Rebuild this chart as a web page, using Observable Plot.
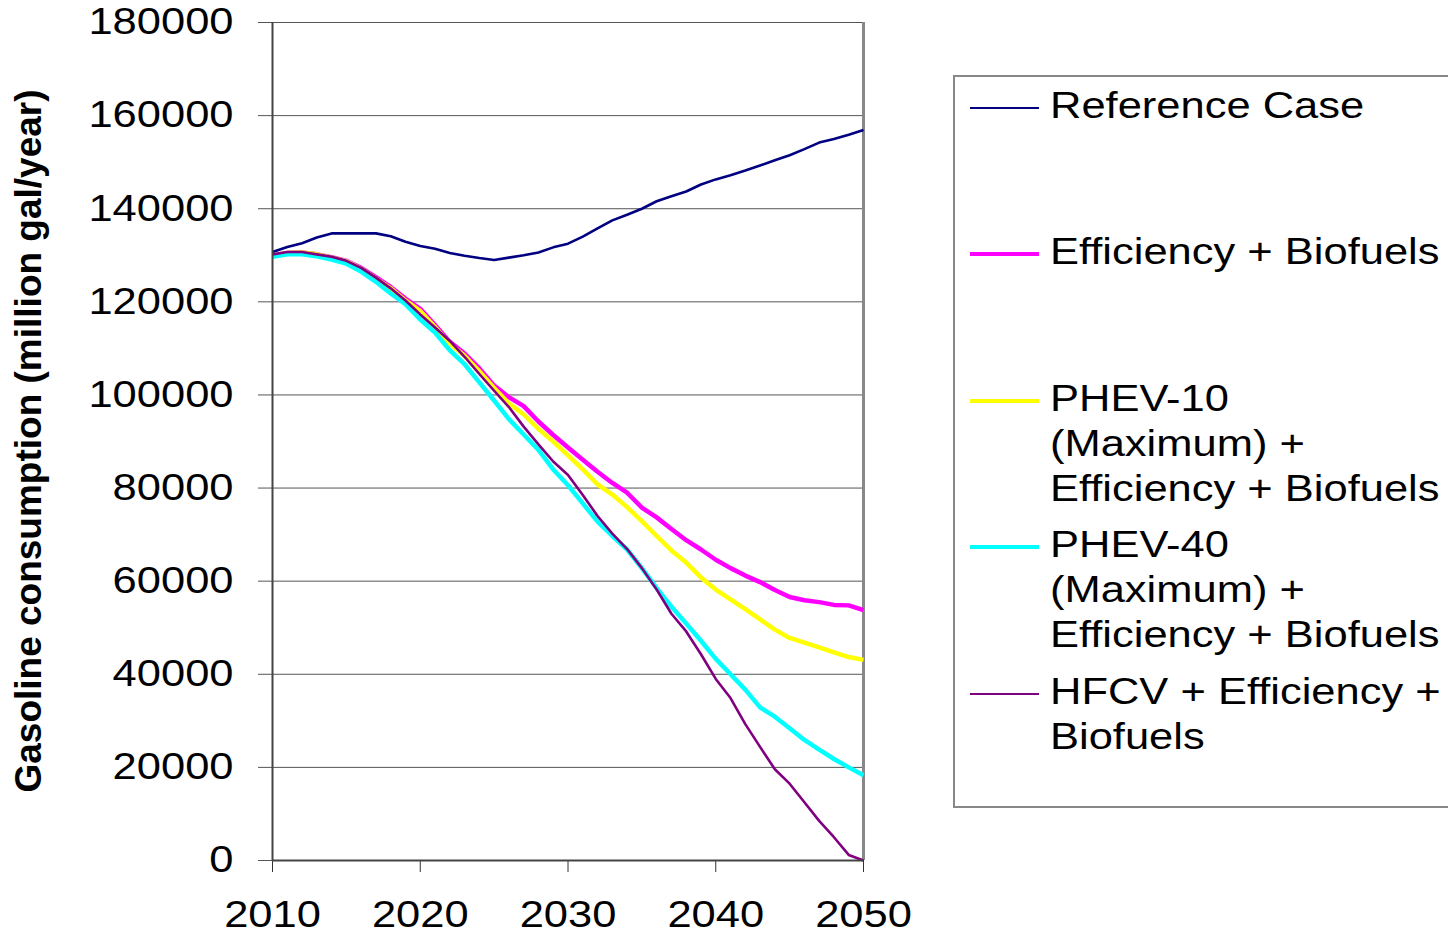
<!DOCTYPE html>
<html>
<head>
<meta charset="utf-8">
<script src="https://cdn.jsdelivr.net/npm/d3@7"></script>
<script src="https://cdn.jsdelivr.net/npm/@observablehq/plot@0.6"></script>
<style>
  html, body { margin: 0; padding: 0; background: #fff; overflow: hidden; }
  #wrap { position: relative; width: 1448px; height: 932px; font-family: "Liberation Sans", Arial, sans-serif; color: #000; }
  #ytitle {
    position: absolute; left: 28px; top: 441px;
    transform: translate(-50%, -50%) rotate(-90deg);
    white-space: nowrap; font-weight: bold; font-size: 37px; line-height: 1;
  }
  #legend {
    position: absolute; left: 953px; top: 75px; width: 540px; height: 733px;
    box-sizing: border-box; border: 2px solid #888; background: #fff;
    padding-top: 5.5px; font-size: 37px;
  }
  .entry { position: relative; height: 146.6px; }
  .swatch { position: absolute; left: 15px; width: 69px; }
  .label { position: absolute; left: 95px; top: 0; line-height: 45px; white-space: nowrap;
           transform: scaleX(1.175); transform-origin: 0 0; }
</style>
</head>
<body>
<div id="wrap"></div>
<script>
// ---- data ----
const years = [2010,2011,2012,2013,2014,2015,2016,2017,2018,2019,2020,2021,2022,2023,2024,2025,2026,2027,2028,2029,2030,
               2031,2032,2033,2034,2035,2036,2037,2038,2039,2040,2041,2042,2043,2044,2045,2046,2047,2048,2049,2050];

const referenceCase = [130700,131800,132600,133800,134700,134700,134700,134700,134100,132900,132000,
                       131400,130500,129900,129400,129000,129500,130000,130600,131700,132500,
                       134000,135800,137500,138700,140000,141600,142700,143700,145200,146300,
                       147200,148200,149300,150400,151500,152800,154200,155000,155900,156900];

const efficiencyBiofuels = [129900,130500,130600,130200,129600,128800,127300,125300,123200,120700,118500,
                            115000,111400,108900,105700,102000,99500,97600,94300,91400,88700,
                            86100,83500,81100,79000,75800,73700,71200,68800,66800,64600,
                            62800,61200,59800,58100,56600,55900,55500,54900,54800,53800];

const phev10 = [129900,130500,130600,130200,129500,128700,127100,125000,122900,120300,118000,
                114600,111000,108400,105100,101500,98200,95800,92700,90000,87000,
                84000,80800,78600,75900,72900,69700,66600,64000,60800,58200,
                56100,54000,51800,49600,47800,46800,45800,44700,43700,43100];

const phev40 = [129700,130200,130200,129800,129100,128200,126500,124300,121800,119500,116200,
                113400,109600,106600,102700,98800,94800,91500,88200,84000,80600,
                76700,72800,69700,66800,62800,58500,54500,50900,47200,43300,
                40000,36700,32900,30900,28400,25900,23800,21800,20000,18300];

const hfcv = [130200,130700,130700,130200,129700,128800,127300,125200,122900,120300,117300,
              114500,111600,108200,104500,100900,97400,93200,89400,85700,82800,
              78500,74000,70200,66900,62800,58200,53000,49200,44300,39000,
              34900,29300,24400,19600,16500,12500,8500,5000,1200,0];

const seriesNames = ["Reference Case", "Efficiency + Biofuels",
  "PHEV-10 (Maximum) + Efficiency + Biofuels", "PHEV-40 (Maximum) + Efficiency + Biofuels",
  "HFCV + Efficiency + Biofuels"];
const legendLines = [["Reference Case"], ["Efficiency + Biofuels"],
  ["PHEV-10", "(Maximum) +", "Efficiency + Biofuels"],
  ["PHEV-40", "(Maximum) +", "Efficiency + Biofuels"],
  ["HFCV + Efficiency +", "Biofuels"]];
const seriesColors = ["#000080", "#FF00FF", "#FFFF00", "#00FFFF", "#800080"];
const seriesWidths = [2.6, 4.5, 4.5, 4.5, 2.6];
const legendWidths = [2, 4, 4, 4, 2];

const xTicks = [2010, 2020, 2030, 2040, 2050];
const yTicks = [0, 20000, 40000, 60000, 80000, 100000, 120000, 140000, 160000, 180000];
const yTitle = "Gasoline consumption (million gal/year)";

// ---- table ----
const seriesValues = [referenceCase, efficiencyBiofuels, phev10, phev40, hfcv];
const rows = seriesNames.flatMap((name, i) =>
  years.map((year, j) => ({series: name, year, value: seriesValues[i][j]})));

const chart = Plot.plot({
  width: 1448,
  height: 932,
  marginLeft: 272,
  marginRight: 585,
  marginTop: 22,
  marginBottom: 72,
  style: {fontFamily: "'Liberation Sans', Arial, sans-serif", fontSize: "37px", background: "#fff", color: "#000", overflow: "visible"},
  x: {domain: [2010, 2050]},
  y: {domain: [0, 180000]},
  marks: [
    Plot.gridY(yTicks.filter(d => d > 0), {stroke: "#555", strokeOpacity: 1, strokeWidth: 1}),
    Plot.axisY(yTicks, {tickSize: 14, tickPadding: 25, tickFormat: d => String(d), label: null,
                        stroke: "#555", fill: "#000", fontSize: 37}),
    Plot.axisX(xTicks, {tickSize: 12, tickPadding: 28, tickFormat: d => String(d), label: null,
                        stroke: "#333", fill: "#000", fontSize: 37}),
    Plot.ruleX([2050], {stroke: "#888", strokeWidth: 3}),
    ...seriesNames.map((name, i) =>
      Plot.line(rows.filter(r => r.series === name), {
        x: "year", y: "value", stroke: seriesColors[i], strokeWidth: seriesWidths[i],
        strokeLinejoin: "round", strokeLinecap: "butt"
      })),
    Plot.ruleX([2010], {stroke: "#444", strokeWidth: 2}),
    Plot.ruleY([0], {stroke: "#444", strokeWidth: 2})
  ]
});

const wrap = document.getElementById("wrap");
wrap.appendChild(chart);

// widen the tick-label glyphs like the reference's stretched font
chart.querySelectorAll("text").forEach(t => {
  const w = t.getComputedTextLength();
  if (w > 0) {
    t.setAttribute("textLength", (w * 1.175).toFixed(1));
    t.setAttribute("lengthAdjust", "spacingAndGlyphs");
  }
});

const title = document.createElement("div");
title.id = "ytitle";
title.textContent = yTitle;
wrap.appendChild(title);

const legend = document.createElement("div");
legend.id = "legend";
legendLines.forEach((lines, i) => {
  const entry = document.createElement("div");
  entry.className = "entry";
  const sw = document.createElement("div");
  sw.className = "swatch";
  sw.style.height = legendWidths[i] + "px";
  sw.style.top = (25 - legendWidths[i] / 2) + "px";
  sw.style.background = seriesColors[i];
  entry.appendChild(sw);
  const lab = document.createElement("div");
  lab.className = "label";
  lab.innerHTML = lines.map(s => s.replace(/&/g, "&amp;").replace(/</g, "&lt;")).join("<br>");
  entry.appendChild(lab);
  legend.appendChild(entry);
});
wrap.appendChild(legend);
</script>
</body>
</html>
